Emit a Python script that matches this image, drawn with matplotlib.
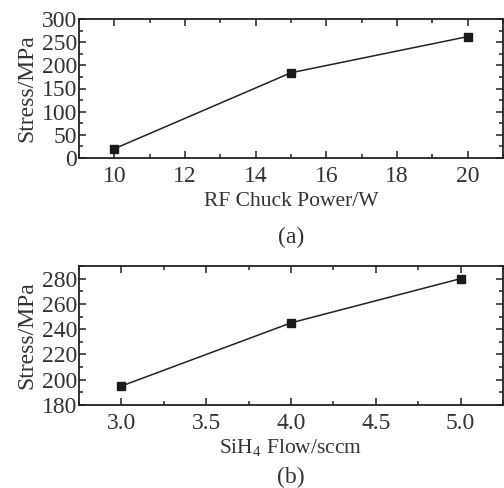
import matplotlib
matplotlib.use("Agg")
import matplotlib.pyplot as plt
from matplotlib.ticker import MultipleLocator, FormatStrFormatter

plt.rcParams['font.family'] = ['Liberation Serif', 'DejaVu Serif']
plt.rcParams['mathtext.fontset'] = 'custom'
plt.rcParams['mathtext.rm'] = 'Liberation Serif'

power = [10, 15, 20]
stress_a = [20, 184, 262]
flow = [3.0, 4.0, 5.0]
stress_b = [195, 245, 280]

W, H = 504, 488
fig = plt.figure(figsize=(W/100, H/100), dpi=100)

def mk(l, t, r, b):
    return fig.add_axes([l/W, 1 - b/H, (r-l)/W, (b-t)/H])

ax1 = mk(79, 19, 503, 158)
ax2 = mk(79, 266, 503, 405)

fs = 17
lfs = 15.5
tc = '#333333'
for ax in (ax1, ax2):
    ax.tick_params(direction='in', which='both', top=True, right=True, labelsize=fs,
                   color='#222222', labelcolor=tc)
    ax.tick_params(which='major', length=5, width=1.1)
    ax.tick_params(which='minor', length=3, width=1.1)
    ax.tick_params(axis='x', pad=6)
    ax.tick_params(axis='y', pad=1.5)
    for s in ax.spines.values():
        s.set_linewidth(1.3)
        s.set_color('#222222')

cx = 0.5*(79+503)/W

ax1.plot(power, stress_a, color='#222222', lw=1.1, marker='s', ms=5.5, mfc='#1a1a1a', mec='#1a1a1a')
ax1.set_xlim(9, 21)
ax1.set_ylim(0, 300)
ax1.xaxis.set_major_locator(MultipleLocator(2))
ax1.xaxis.set_minor_locator(MultipleLocator(1))
ax1.yaxis.set_major_locator(MultipleLocator(50))
ax1.yaxis.set_minor_locator(MultipleLocator(25))
ax1.set_ylabel('Stress/MPa', fontsize=fs, color=tc, labelpad=3)
fig.text(cx, 1 - 202/H, 'RF Chuck Power/W', ha='center', va='center', fontsize=lfs, color=tc)
fig.text(cx, 1 - 237/H, '(a)', ha='center', va='center', fontsize=fs, color=tc)

ax2.plot(flow, stress_b, color='#222222', lw=1.1, marker='s', ms=5.5, mfc='#1a1a1a', mec='#1a1a1a')
ax2.set_xlim(2.75, 5.25)
ax2.set_ylim(180, 290)
ax2.xaxis.set_major_locator(MultipleLocator(0.5))
ax2.xaxis.set_minor_locator(MultipleLocator(0.25))
ax2.yaxis.set_major_locator(MultipleLocator(20))
ax2.yaxis.set_minor_locator(MultipleLocator(10))
ax2.xaxis.set_major_formatter(FormatStrFormatter('%.1f'))
ax2.set_ylabel('Stress/MPa', fontsize=fs, color=tc, labelpad=3)
fig.text(cx, 1 - 448/H, r'SiH$_{\mathregular{4}}$ Flow/sccm', ha='center', va='center', fontsize=lfs, color=tc)
fig.text(cx, 1 - 477/H, '(b)', ha='center', va='center', fontsize=fs, color=tc)

fig.savefig('out.png', dpi=100)
